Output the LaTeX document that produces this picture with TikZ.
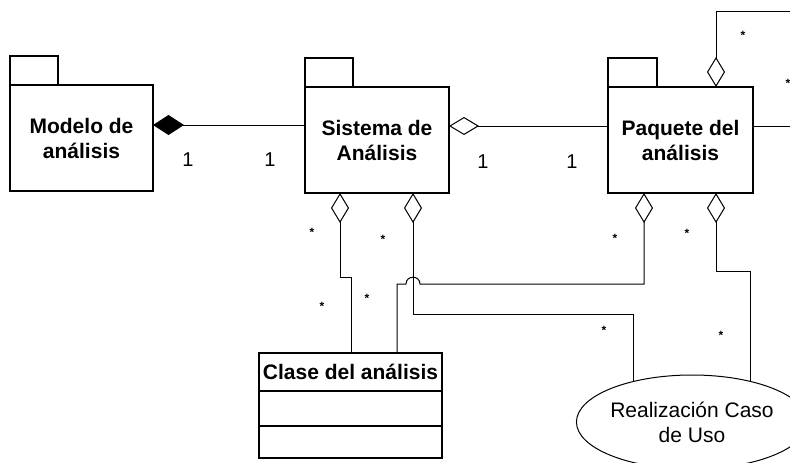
\documentclass[tikz,border=0pt]{standalone}
\usepackage{fontspec}
\setmainfont{Liberation Sans}
\usetikzlibrary{arrows.meta,shapes.geometric,backgrounds}
\begin{document}
\begin{tikzpicture}[x=1pt,y=-1pt,
  every node/.style={inner sep=0pt,outer sep=0pt},
  pkg/.style={draw,line width=1.2pt,fill=white,minimum height=106pt,align=center,
    font=\bfseries\fontsize{21}{25}\selectfont},
  tabbox/.style={draw,line width=1.2pt,fill=white,minimum width=48pt,minimum height=29pt},
  classbox/.style={draw,line width=1.2pt,fill=white,minimum width=183pt},
  conn/.style={line width=1pt},
  agg/.style={conn,{Diamond[open,length=30pt,width=18pt]}-},
  comp/.style={conn,{Diamond[length=31pt,width=20pt]}-},
  mult/.style={font=\fontsize{20}{24}\selectfont},
  starlbl/.style={font=\bfseries\fontsize{12}{12}\selectfont}]
\useasboundingbox (0,0) rectangle (790,463);

% packages
\node[tabbox] (modelotab) at (34,70.5) {};
\node[pkg,minimum width=143pt] (modelo) at (81.5,138) {Modelo de\\análisis};
\node[tabbox] (sistematab) at (329,72.5) {};
\node[pkg,minimum width=144pt] (sistema) at (377,140) {Sistema de\\Análisis};
\node[tabbox,minimum width=49pt] (paquetetab) at (632.5,72.5) {};
\node[pkg,minimum width=145pt] (paquete) at (680.5,140) {Paquete del\\análisis};

% class
\node[classbox,minimum height=38pt,font=\bfseries\fontsize{21}{25}\selectfont] (clase) at (350.5,372) {Clase del análisis};
\node[classbox,minimum height=35pt] (claseA) at (350.5,408.5) {};
\node[classbox,minimum height=32pt] (claseB) at (350.5,442) {};

% use case realization
\node[ellipse,draw,line width=1pt,fill=white,minimum width=190pt,minimum height=94pt,
  align=center,font=\fontsize{21}{25}\selectfont] (rcu) at (692,422) {Realización Caso\\de Uso};

\begin{scope}[on background layer]
\coordinate (r1) at (790,126);
\draw[comp] ([yshift=13pt]modelo.east) -- ([yshift=15pt]sistema.west);
\draw[agg] ([yshift=14pt]sistema.east) -- ([yshift=14pt]paquete.west);
\draw[conn] ([yshift=14pt]paquete.east) -- (r1);

\coordinate (t1) at (716,11);
\coordinate (t2) at (790,11);
\draw[agg] (t1 |- paquete.north) -- (t1) -- (t2);

\coordinate (s1) at (340,277);
\coordinate (s2) at (351,277);
\draw[agg] (s1 |- sistema.south) -- (s1) -- (s2) -- (s2 |- clase.north);

\coordinate (u1) at (413,314);
\coordinate (u2) at (633,314);
\draw[agg] (u1 |- sistema.south) -- (u1) -- (u2) -- (u2 |- rcu.center);

\coordinate (p1) at (644,284);
\coordinate (h1) at (420,284);
\coordinate (h2) at (406,284);
\coordinate (p2) at (397,284);
\draw[agg] (p1 |- paquete.south) -- (p1) -- (h1) .. controls (420,275) and (406,275) .. (h2) -- (p2) -- (p2 |- clase.north);

\coordinate (q1) at (716,271);
\coordinate (q2) at (750,271);
\draw[agg] (q1 |- paquete.south) -- (q1) -- (q2) -- (q2 |- rcu.center);
\end{scope}

% multiplicities
\node[mult] (m1) at (188,160) {1};
\node[mult] (m2) at (270,160) {1};
\node[mult] (m3) at (483,162) {1};
\node[mult] (m4) at (572,162) {1};

\node[starlbl] (st1) at (312,232) {*};
\node[starlbl] (st2) at (383,239) {*};
\node[starlbl] (st3) at (322,306) {*};
\node[starlbl] (st4) at (367,298) {*};
\node[starlbl] (st5) at (615,238) {*};
\node[starlbl] (st6) at (687,233) {*};
\node[starlbl] (st7) at (604,330) {*};
\node[starlbl] (st8) at (721,335) {*};
\node[starlbl] (st9) at (743,35) {*};
\node[starlbl] (st10) at (788,83) {*};
\end{tikzpicture}
\end{document}
